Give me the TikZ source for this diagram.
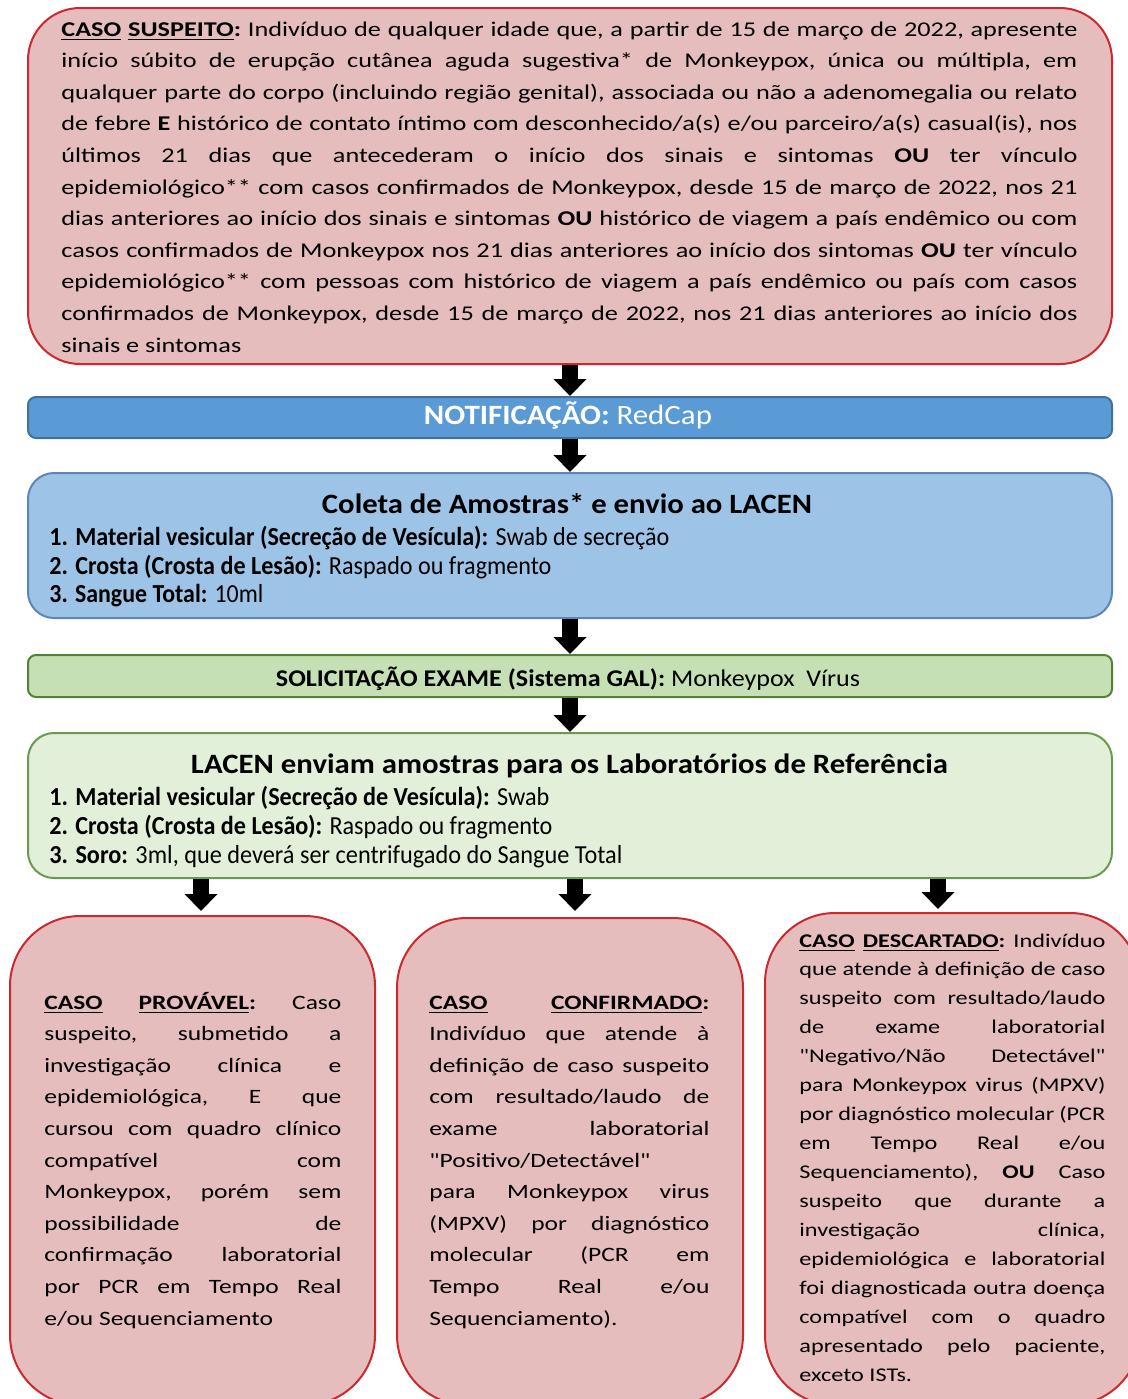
\documentclass[tikz,border=0pt]{standalone}
\usepackage{fontspec}
\usepackage{graphicx}
\setmainfont{Carlito}
\newfontfamily\fA[FakeStretch=1.25]{Carlito}
\usetikzlibrary{arrows.meta}
\definecolor{pinkF}{RGB}{229,189,189}
\definecolor{redB}{RGB}{204,40,45}
\definecolor{blueF}{RGB}{91,155,213}
\definecolor{blueB}{RGB}{65,113,156}
\definecolor{lblueF}{RGB}{157,195,230}
\definecolor{lblueB}{RGB}{90,134,184}
\definecolor{greenF}{RGB}{197,224,180}
\definecolor{greenB}{RGB}{84,130,53}
\definecolor{lgreenF}{RGB}{226,240,217}
\definecolor{lgreenB}{RGB}{106,154,80}
\newcommand\jlin[1]{\hbox to \hsize{\spaceskip=\fontdimen2\font plus 1fil minus .35\fontdimen2\font\relax #1}}
\newcommand\lastln[1]{\hbox{#1}}
\newcommand\uln[1]{\underline{#1}}
\newcommand\itemfont{\fontsize{13}{14.5}\selectfont}
\newcommand\titlefont{\fontsize{14}{16}\selectfont}
\begin{document}
\begin{tikzpicture}[x=0.5pt,y=-0.5pt,
  pinkbox/.style={draw=redB, fill=pinkF, line width=1pt, inner sep=0pt},
  barbox/.style={line width=1pt, inner sep=0pt, rounded corners=4pt, minimum width=542pt},
  roundbox/.style={line width=1pt, inner sep=0pt, rounded corners=13pt, minimum width=542pt},
  txt/.style={anchor=base west, inner sep=0pt},
  ctxt/.style={anchor=base, inner sep=0pt},
  blockarrow/.style={line width=8pt, line cap=butt, -{Triangle[width=16pt,length=8.5pt]}, black}]
\useasboundingbox (0,0) rectangle (1128,1399);
\clip (0,0) rectangle (1128,1399);
% boxes
\node[pinkbox, rounded corners=26pt, minimum width=542pt, minimum height=178pt] (susp) at (570,186) {};
\node[barbox, fill=blueF, draw=blueB, minimum height=20.5pt] (notif) at (570,417.5) {};
\node[roundbox, fill=lblueF, draw=lblueB, minimum height=72.5pt] (coleta) at (570,545.5) {};
\node[barbox, fill=greenF, draw=greenB, minimum height=21pt] (solic) at (570,676) {};
\node[roundbox, fill=lgreenF, draw=lgreenB, minimum height=72.5pt] (lacen) at (570,805.5) {};
\node[pinkbox, rounded corners=35pt, minimum width=182.5pt, minimum height=244.5pt] (prob) at (192.5,1160.5) {};
\node[pinkbox, rounded corners=35pt, minimum width=173pt, minimum height=243.5pt] (conf) at (570,1161.5) {};
\node[pinkbox, rounded corners=35pt, minimum width=187.5pt, minimum height=246pt] (desc) at (952.5,1159) {};
% top text
\node[txt] (suspT) at (61,36) {\fA\fontsize{10.5}{15.8}\selectfont\frenchspacing\vtop{\hsize=508pt
\jlin{\textbf{\uln{CASO} \uln{SUSPEITO}:} Indivíduo de qualquer idade que, a partir de 15 de março de 2022, apresente}
\jlin{início súbito de erupção cutânea aguda sugestiva* de Monkeypox, única ou múltipla, em}
\jlin{qualquer parte do corpo (incluindo região genital), associada ou não a adenomegalia ou relato}
\jlin{de febre \textbf{E} histórico de contato íntimo com desconhecido/a(s) e/ou parceiro/a(s) casual(is), nos}
\jlin{últimos 21 dias que antecederam o início dos sinais e sintomas \textbf{OU} ter vínculo}
\jlin{epidemiológico** com casos confirmados de Monkeypox, desde 15 de março de 2022, nos 21}
\jlin{dias anteriores ao início dos sinais e sintomas \textbf{OU} histórico de viagem a país endêmico ou com}
\jlin{casos confirmados de Monkeypox nos 21 dias anteriores ao início dos sintomas \textbf{OU} ter vínculo}
\jlin{epidemiológico** com pessoas com histórico de viagem a país endêmico ou país com casos}
\jlin{confirmados de Monkeypox, desde 15 de março de 2022, nos 21 dias anteriores ao início dos}
\lastln{sinais e sintomas}}};
% middle texts
\node[ctxt, text=white] (notifT) at (568,424) {\fontsize{14}{16}\selectfont\resizebox{144pt}{\height}{\textbf{NOTIFICAÇÃO:} RedCap}};
\node[ctxt] (coletaT) at (567,513) {\titlefont\resizebox{245pt}{\height}{\textbf{Coleta de Amostras* e envio ao LACEN}}};
\node[txt] (col1) at (49,545) {\itemfont\resizebox{310pt}{\height}{\textbf{1. Material vesicular (Secreção de Vesícula):} Swab de secreção}};
\node[txt] (col2) at (49,574) {\itemfont\resizebox{251pt}{\height}{\textbf{2. Crosta (Crosta de Lesão):} Raspado ou fragmento}};
\node[txt] (col3) at (49,602) {\itemfont\resizebox{107pt}{\height}{\textbf{3. Sangue Total:} 10ml}};
\node[ctxt] (solicT) at (568,686) {\fontsize{12}{14}\selectfont\resizebox{292pt}{\height}{\textbf{SOLICITAÇÃO EXAME (Sistema GAL):} Monkeypox~ Vírus}};
\node[ctxt] (lacenT) at (569.5,773) {\titlefont\resizebox{378.5pt}{\height}{\textbf{LACEN enviam amostras para os Laboratórios de Referência}}};
\node[txt] (lac1) at (49,805) {\itemfont\resizebox{250pt}{\height}{\textbf{1. Material vesicular (Secreção de Vesícula):} Swab}};
\node[txt] (lac2) at (49,834) {\itemfont\resizebox{251.5pt}{\height}{\textbf{2. Crosta (Crosta de Lesão):} Raspado ou fragmento}};
\node[txt] (lac3) at (49,863) {\itemfont\resizebox{286.5pt}{\height}{\textbf{3. Soro:} 3ml, que deverá ser centrifugado do Sangue Total}};
% bottom texts
\node[txt] (probT) at (44,1009) {\fA\fontsize{10.2}{15.8}\selectfont\frenchspacing\vtop{\hsize=148.5pt
\jlin{\textbf{\uln{CASO} \uln{PROVÁVEL}:} Caso}
\jlin{suspeito, submetido a}
\jlin{investigação clínica e}
\jlin{epidemiológica, E que}
\jlin{cursou com quadro clínico}
\jlin{compatível com}
\jlin{Monkeypox, porém sem}
\jlin{possibilidade de}
\jlin{confirmação laboratorial}
\jlin{por PCR em Tempo Real}
\lastln{e/ou Sequenciamento}}};
\node[txt] (confT) at (429,1009) {\fA\fontsize{10.2}{15.8}\selectfont\frenchspacing\vtop{\hsize=140pt
\jlin{\textbf{\uln{CASO} \uln{CONFIRMADO}:}}
\jlin{Indivíduo que atende à}
\jlin{definição de caso suspeito}
\jlin{com resultado/laudo de}
\jlin{exame laboratorial}
\jlin{"Positivo/Detectável"}
\jlin{para Monkeypox virus}
\jlin{(MPXV) por diagnóstico}
\jlin{molecular (PCR em}
\jlin{Tempo Real e/ou}
\lastln{Sequenciamento).}}};
\node[txt] (descT) at (799,947) {\fA\fontsize{9.7}{14.47}\selectfont\frenchspacing\vtop{\hsize=153pt
\jlin{\textbf{\uln{CASO} \uln{DESCARTADO}:} Indivíduo}
\jlin{que atende à definição de caso}
\jlin{suspeito com resultado/laudo}
\jlin{de exame laboratorial}
\jlin{"Negativo/Não Detectável"}
\jlin{para Monkeypox virus (MPXV)}
\jlin{por diagnóstico molecular (PCR}
\jlin{em Tempo Real e/ou}
\jlin{Sequenciamento), \textbf{OU} Caso}
\jlin{suspeito que durante a}
\jlin{investigação clínica,}
\jlin{epidemiológica e laboratorial}
\jlin{foi diagnosticada outra doença}
\jlin{compatível com o quadro}
\jlin{apresentado pelo paciente,}
\lastln{exceto ISTs.}}};
% arrows
\coordinate (t1) at (201,911);
\coordinate (t2) at (575,911);
\coordinate (t3) at (938,909);
\draw[blockarrow] (susp.south) -- (notif.north);
\draw[blockarrow] (notif.south) -- (coleta.north);
\draw[blockarrow] (coleta.south) -- (solic.north);
\draw[blockarrow] (solic.south) -- (lacen.north);
\draw[blockarrow] (lacen.south -| t1) -- (t1);
\draw[blockarrow] (lacen.south -| t2) -- (t2);
\draw[blockarrow] (lacen.south -| t3) -- (t3);
\end{tikzpicture}
\end{document}
